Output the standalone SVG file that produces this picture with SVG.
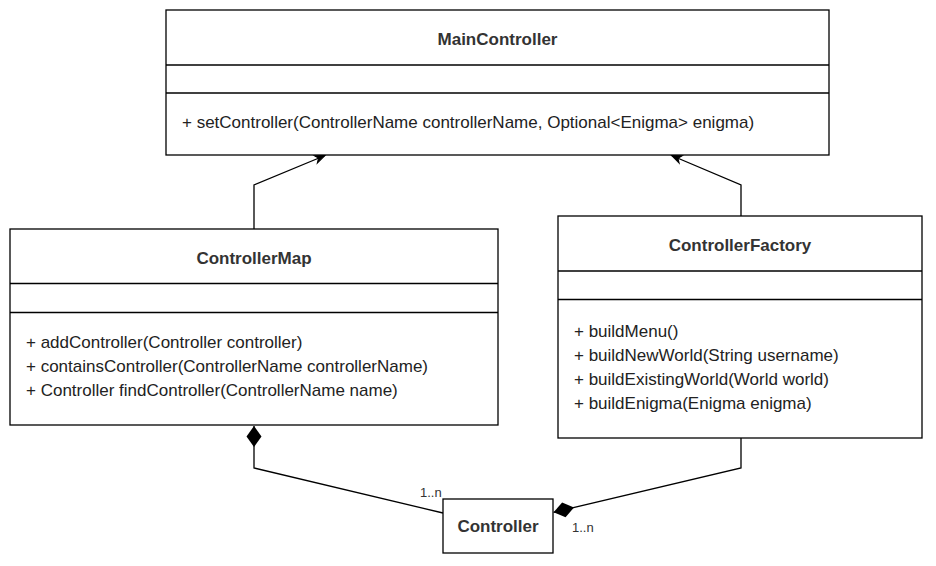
<svg xmlns="http://www.w3.org/2000/svg" width="936" height="566" viewBox="0 0 936 566">
<style>
.box{fill:#fff;stroke:#000;stroke-width:1.3}
.div{stroke:#000;stroke-width:1.3;fill:none}
.title{font-family:"Liberation Sans",Arial,sans-serif;font-size:17px;font-weight:bold;fill:#333;text-anchor:middle}
.m{font-family:"Liberation Sans",Arial,sans-serif;font-size:17px;fill:#222}
.lbl{font-family:"Liberation Sans",Arial,sans-serif;font-size:13px;fill:#333}
.edge{fill:none;stroke:#000;stroke-width:1.3}
</style>
<defs>
<marker id="arrow" markerUnits="userSpaceOnUse" markerWidth="14" markerHeight="12" viewBox="-12 -6 14 12" refX="0" refY="0" orient="auto">
<path d="M0,0 L-10,-4 L-7,0 L-10,4 Z" fill="#000" stroke="#000" stroke-width="1"/>
</marker>
<marker id="diamond" markerUnits="userSpaceOnUse" markerWidth="24" markerHeight="20" viewBox="-1 -10 24 20" refX="0" refY="0" orient="auto">
<path d="M0,0 L10.5,-7.5 L21,0 L10.5,7.5 Z" fill="#000"/>
</marker>
</defs>

<g id="connectors">
<path class="edge" d="M254 229 L254 185 L325 155.5" marker-end="url(#arrow)"/>
<path class="edge" d="M741 216 L741 185 L671.5 155.5" marker-end="url(#arrow)"/>
<path class="edge" d="M254 426 L254 468 L443 513" marker-start="url(#diamond)"/>
<path class="edge" d="M553.6 512.3 L741 468 L741 438" marker-start="url(#diamond)"/>
<text class="lbl" x="420" y="497">1..n</text>
<text class="lbl" x="572" y="532">1..n</text>
</g>

<g id="MainController">
<rect class="box" x="166" y="10" width="663" height="145"/>
<line class="div" x1="166" y1="65" x2="829" y2="65"/>
<line class="div" x1="166" y1="93" x2="829" y2="93"/>
<text class="title" x="497.5" y="45">MainController</text>
<text class="m" x="182" y="128">+ setController(ControllerName controllerName, Optional&lt;Enigma&gt; enigma)</text>
</g>

<g id="ControllerMap">
<rect class="box" x="10" y="229" width="488" height="196"/>
<line class="div" x1="10" y1="283.5" x2="498" y2="283.5"/>
<line class="div" x1="10" y1="312.5" x2="498" y2="312.5"/>
<text class="title" x="254" y="264">ControllerMap</text>
<text class="m" x="26" y="348">+ addController(Controller controller)</text>
<text class="m" x="26" y="372">+ containsController(ControllerName controllerName)</text>
<text class="m" x="26" y="396">+ Controller findController(ControllerName name)</text>
</g>

<g id="ControllerFactory">
<rect class="box" x="558" y="216" width="364" height="222"/>
<line class="div" x1="558" y1="271" x2="922" y2="271"/>
<line class="div" x1="558" y1="299.5" x2="922" y2="299.5"/>
<text class="title" x="740" y="251">ControllerFactory</text>
<text class="m" x="574" y="337">+ buildMenu()</text>
<text class="m" x="574" y="361">+ buildNewWorld(String username)</text>
<text class="m" x="574" y="385">+ buildExistingWorld(World world)</text>
<text class="m" x="574" y="409">+ buildEnigma(Enigma enigma)</text>
</g>

<g id="Controller">
<rect class="box" x="443" y="499" width="110" height="54"/>
<text class="title" x="498" y="532">Controller</text>
</g>
</svg>
